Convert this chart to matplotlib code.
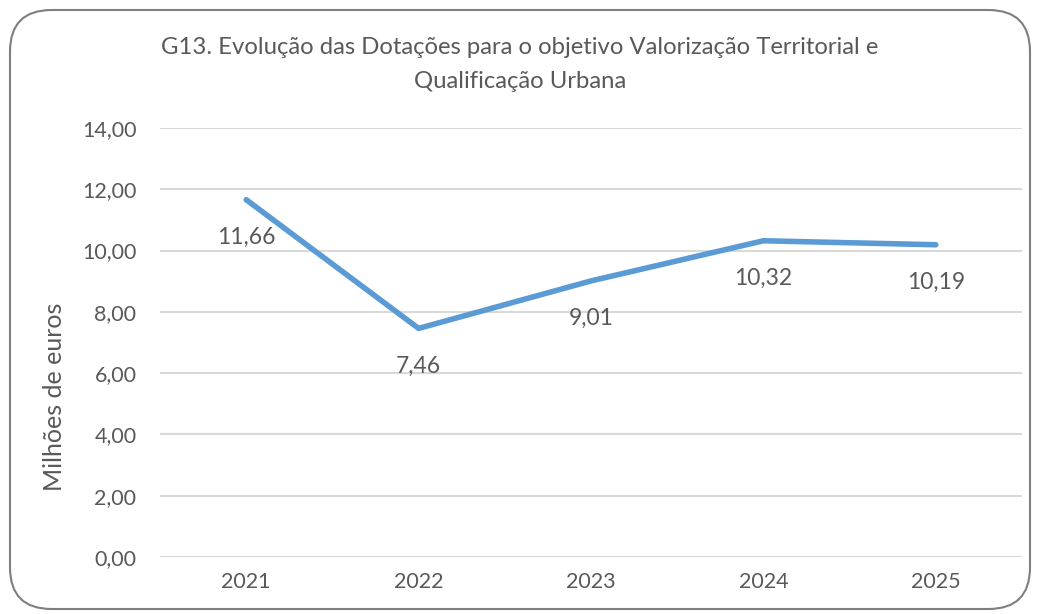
import matplotlib.pyplot as plt
from matplotlib.patches import FancyBboxPatch

plt.rcParams['font.family'] = ['Lato', 'DejaVu Sans']

anos = ['2021', '2022', '2023', '2024', '2025']
dotacoes = [11.66, 7.46, 9.01, 10.32, 10.19]
rotulos = ['11,66', '7,46', '9,01', '10,32', '10,19']
yticks = [0, 2, 4, 6, 8, 10, 12, 14]

W, H = 1040, 614
fig = plt.figure(figsize=(W / 100, H / 100), dpi=100)
txt = '#595959'

# axes: plot area in pixels
x0, x1, ytop, ybot = 160, 1022, 128, 557
ax = fig.add_axes([x0 / W, 1 - ybot / H, (x1 - x0) / W, (ybot - ytop) / H])

x = list(range(len(anos)))
ax.plot(x, dotacoes, color='#5B9BD5', lw=4.0, solid_capstyle='round', solid_joinstyle='round', zorder=3)
for xi, v, r in zip(x, dotacoes, rotulos):
    ax.annotate(r, (xi, v), xytext=(0, -27), textcoords='offset points',
                ha='center', va='center', fontsize=16.5, color=txt)

ax.set_xlim(-0.5, len(anos) - 0.5)
ax.set_ylim(0, 14)
ax.set_yticks(yticks)
ax.set_yticklabels([f'{t:.2f}'.replace('.', ',') for t in yticks])
ax.set_xticks(x)
ax.set_xticklabels(anos)
ax.tick_params(length=0, colors=txt, labelsize=15.5)
ax.tick_params(axis='y', pad=17)
ax.tick_params(axis='x', pad=11)
ax.grid(axis='y', color='#D9D9D9', lw=1.5)
ax.set_axisbelow(True)
for s in ax.spines.values():
    s.set_visible(False)

fig.text(0.5, 1 - 48 / H, 'G13. Evolução das Dotações para o objetivo Valorização Territorial e',
         ha='center', va='center', fontsize=17.2, color=txt)
fig.text(0.5, 1 - 81 / H, 'Qualificação Urbana', ha='center', va='center', fontsize=17.2, color=txt)
fig.text(55 / W, 1 - 397 / H, 'Milhões de euros', rotation=90, ha='center', va='center',
         fontsize=18, color=txt)

box = FancyBboxPatch((10 / W, 5 / H), 1020 / W, 599 / H,
                     boxstyle='round,pad=0,rounding_size=0.04', transform=fig.transFigure,
                     fc='none', ec='#7F7F7F', lw=1.5, mutation_aspect=W / H)
fig.patches.append(box)

fig.savefig('out.png', dpi=100)
